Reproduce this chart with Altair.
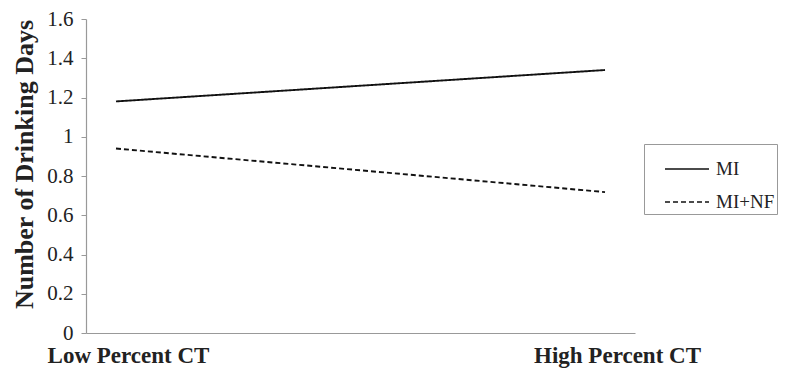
import altair as alt
import pandas as pd

categories = ["Low Percent CT", "High Percent CT"]
series = ["MI", "MI+NF"]
mi_values = [1.18, 1.34]
minf_values = [0.94, 0.718]
y_ticks = [0, 0.2, 0.4, 0.6, 0.8, 1.0, 1.2, 1.4, 1.6]

rows = []
for c, v in zip(categories, mi_values):
    rows.append({"cond": c, "group": "MI", "days": v})
for c, v in zip(categories, minf_values):
    rows.append({"cond": c, "group": "MI+NF", "days": v})
df = pd.DataFrame(rows)

SERIF = "Liberation Serif"

chart = alt.Chart(df).mark_line(strokeWidth=1.9, color="#111").encode(
    x=alt.X("cond:N", sort=categories,
            scale=alt.Scale(type="point", padding=0.0613),
            axis=alt.Axis(title=None, labelAngle=0, ticks=False,
                          labelFont=SERIF, labelFontSize=23, labelFontWeight="bold",
                          labelColor="#222", labelPadding=11, labelOffset=12,
                          domainColor="#999", domainWidth=1.2)),
    y=alt.Y("days:Q", scale=alt.Scale(domain=[0, 1.6], nice=False),
            axis=alt.Axis(title="Number of Drinking Days", values=y_ticks,
                          labelExpr="format(datum.value, '.1~f')",
                          grid=False, tickSize=5, tickColor="#999", domainColor="#999",
                          domainWidth=1.2, labelFont=SERIF, labelFontSize=21,
                          labelColor="#222", labelPadding=8,
                          titleFont=SERIF, titleFontSize=26, titleFontWeight="bold",
                          titleColor="#222", titlePadding=9, titleY=145)),
    strokeDash=alt.StrokeDash("group:N", sort=series,
                              scale=alt.Scale(domain=series, range=[[1, 0], [5, 3]]),
                              legend=alt.Legend(title=None, orient="none",
                                                legendX=558, legendY=125,
                                                symbolType="stroke", symbolSize=1936,
                                                symbolStrokeColor="#111", symbolStrokeWidth=1.6,
                                                symbolOffset=18, rowPadding=-4, padding=2,
                                                labelExpr="datum.label + '\u00a0\u00a0\u00a0\u00a0\u00a0\u00a0\u00a0\u00a0'",
                                                labelFont=SERIF, labelFontSize=19,
                                                labelColor="#222", labelOffset=6,
                                                strokeColor="#999", fillColor="white")),
).properties(
    width=549, height=314,
    autosize=alt.AutoSizeParams(type="none"),
    padding={"left": 78, "top": 11, "right": 157, "bottom": 35},
).configure_view(stroke=None)

chart.save("out.html", embed_options={"renderer": "svg", "actions": False})
